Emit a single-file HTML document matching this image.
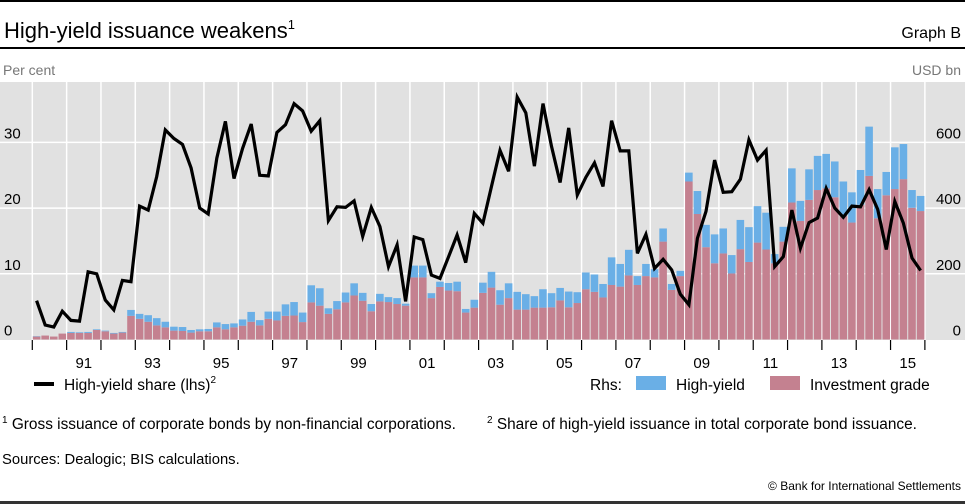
<!DOCTYPE html>
<html><head><meta charset="utf-8"><style>
body{margin:0;background:#fff;width:965px;height:504px;overflow:hidden;font-family:"Liberation Sans",sans-serif}
svg{display:block}
</style></head><body>
<svg id="chart" width="965" height="504" viewBox="0 0 965 504">
<rect x="0" y="0" width="965" height="2" fill="#000"/>
<text x="4" y="38" font-size="22" fill="#000">High-yield issuance weakens<tspan font-size="13" dy="-9">1</tspan></text>
<text x="961" y="38" font-size="16" text-anchor="end" fill="#000">Graph B</text>
<rect x="0" y="47" width="965" height="2" fill="#000"/>
<text x="3" y="75" font-size="14" fill="#777">Per cent</text>
<text x="961" y="75" font-size="14" fill="#777" text-anchor="end">USD bn</text>
<rect x="0" y="82" width="965" height="258" fill="#e1e1e1"/>
<g id="grid"></g><g id="bars"></g><g id="line"></g><g id="axes"></g>
<g>
<rect x="34" y="382" width="20" height="4" fill="#000"/>
<text x="64" y="390" font-size="15.5">High-yield share (lhs)<tspan font-size="10" dy="-7">2</tspan></text>
<text x="590" y="390" font-size="15.5">Rhs:</text>
<rect x="636" y="376" width="30" height="14" fill="#6aafe6"/>
<text x="676" y="390" font-size="15.5">High-yield</text>
<rect x="770" y="376" width="30" height="14" fill="#c48190"/>
<text x="810" y="390" font-size="15.5">Investment grade</text>
</g>
<text x="2" y="429" font-size="15.4"><tspan font-size="10" dy="-6">1</tspan><tspan dy="6">  Gross issuance of corporate bonds by non-financial corporations.</tspan></text>
<text x="487" y="429" font-size="15.4"><tspan font-size="10" dy="-6">2</tspan><tspan dy="6">  Share of high-yield issuance in total corporate bond issuance.</tspan></text>
<text x="2" y="464" font-size="14.8">Sources: Dealogic; BIS calculations.</text>
<text x="961" y="490" font-size="12" text-anchor="end">© Bank for International Settlements</text>
<rect x="0" y="501" width="965" height="3" fill="#333"/>
</svg>
<script>
const yearLabels=["91","93","95","97","99","01","03","05","07","09","11","13","15"];
const leftTicks=[0,10,20,30];
const rightTicks=[0,200,400,600];
const shareValues=[5.9,2.2,1.9,4.3,2.9,2.8,10.3,10.0,6.0,4.5,9.0,8.8,20.3,19.7,24.8,31.9,30.6,29.7,
26.1,20.0,19.1,27.6,33.2,24.5,29.1,32.8,25.0,24.9,31.5,32.7,35.9,34.8,31.7,33.3,18.1,
20.2,20.1,21.1,15.7,20.1,17.2,11.1,14.4,5.8,15.6,15.2,9.8,9.3,12.6,15.9,11.7,19.2,17.7,
23.3,28.8,25.6,36.9,34.5,26.4,35.9,29.4,23.9,32.2,22.0,24.7,26.9,23.3,33.3,28.7,28.7,
13.1,16.0,10.8,12.2,10.6,6.9,5.3,15.4,19.5,27.3,22.4,22.5,24.4,30.4,27.3,28.8,11.1,12.6,
19.7,13.9,17.8,18.5,23.0,20.0,18.6,20.3,20.2,22.8,19.8,13.7,21.0,17.7,12.4,10.5];
const igValues=[9,12,9,18,20,20,20,29,25,18,21,72,63,54,43,37,27,
26,21,25,25,37,31,37,42,54,43,63,58,72,73,53,113,103,78,
92,113,134,118,86,116,114,108,103,189,189,126,160,149,147,82,97,
142,158,106,126,91,91,97,97,98,119,98,111,153,145,128,166,161,195,
166,193,189,298,151,193,481,382,281,232,262,201,275,236,295,274,232,298,
417,361,425,455,460,433,376,356,410,498,369,439,458,488,401,391];
const hyValues=[1,0,0,0,3,2,3,2,2,2,2,18,15,20,22,17,12,
12,8,6,7,15,16,12,19,30,16,22,27,35,41,29,52,53,17,
25,30,37,24,22,23,15,18,6,36,36,15,16,23,29,11,24,
31,48,44,45,54,47,35,56,43,38,48,33,51,53,41,84,69,78,
27,37,25,40,18,16,27,70,68,88,76,56,89,106,111,112,28,45,
104,61,93,104,105,109,105,92,106,150,89,71,127,107,54,46];
const NS='http://www.w3.org/2000/svg';
const X0=32.3,YW=34.33,QW=YW/4,Y0=339.5,PX=6.57;
const xq=i=>X0+QW*i;
const yL=v=>Y0-v*PX;
const yR=v=>Y0-v*PX/20;
function mk(tag,attrs,parent){const e=document.createElementNS(NS,tag);for(const k in attrs)e.setAttribute(k,attrs[k]);parent.appendChild(e);return e;}
const grid=document.getElementById('grid'),bars=document.getElementById('bars'),line=document.getElementById('line'),axes=document.getElementById('axes');
leftTicks.forEach((v,k)=>{
 if(v>0){const g=mk('line',{x1:0,x2:965,y1:yL(v),y2:yL(v),stroke:'#fff','stroke-width':1.5},grid);
 
 }
 const t=mk('text',{x:4,y:yL(v)-4,'font-size':15},axes);t.textContent=v;
 
 
});
rightTicks.forEach(v=>{
 const t=mk('text',{x:961,y:yR(v)-4,'font-size':15,'text-anchor':'end'},axes);t.textContent=v;
 
 
});
for(let k=0;k<=26;k++){
 const x=X0+YW*k;
 const g=mk('line',{x1:x,x2:x,y1:82,y2:340,stroke:'#fff','stroke-width':1.5},grid);
 
 
 const t=mk('line',{x1:x,x2:x,y1:340,y2:350,stroke:'#000','stroke-width':1.2},axes);
 
 
}
yearLabels.forEach((l,k)=>{
 const x=X0+YW*(1+2*k)+YW/2;
 const t=mk('text',{x:x,y:368,'font-size':15,'text-anchor':'middle'},axes);t.textContent=l;
 
 
});
igValues.forEach((v,i)=>{
 const x=xq(i)+0.5,w=QW-1;
 const b=mk('rect',{x:x,y:yR(v),width:w,height:Y0-yR(v),fill:'#c48190'},bars);
 
 
 const h=hyValues[i];
 const b2=mk('rect',{x:x,y:yR(v+h),width:w,height:yR(v)-yR(v+h),fill:'#6aafe6'},bars);
 
 
});
const pts=shareValues.map((v,i)=>(xq(i)+QW/2).toFixed(1)+','+yL(v).toFixed(1)).join(' ');
const pl=mk('polyline',{points:pts,fill:'none',stroke:'#000','stroke-width':3.2,'stroke-linejoin':'miter'},line);


</script>
</body></html>
